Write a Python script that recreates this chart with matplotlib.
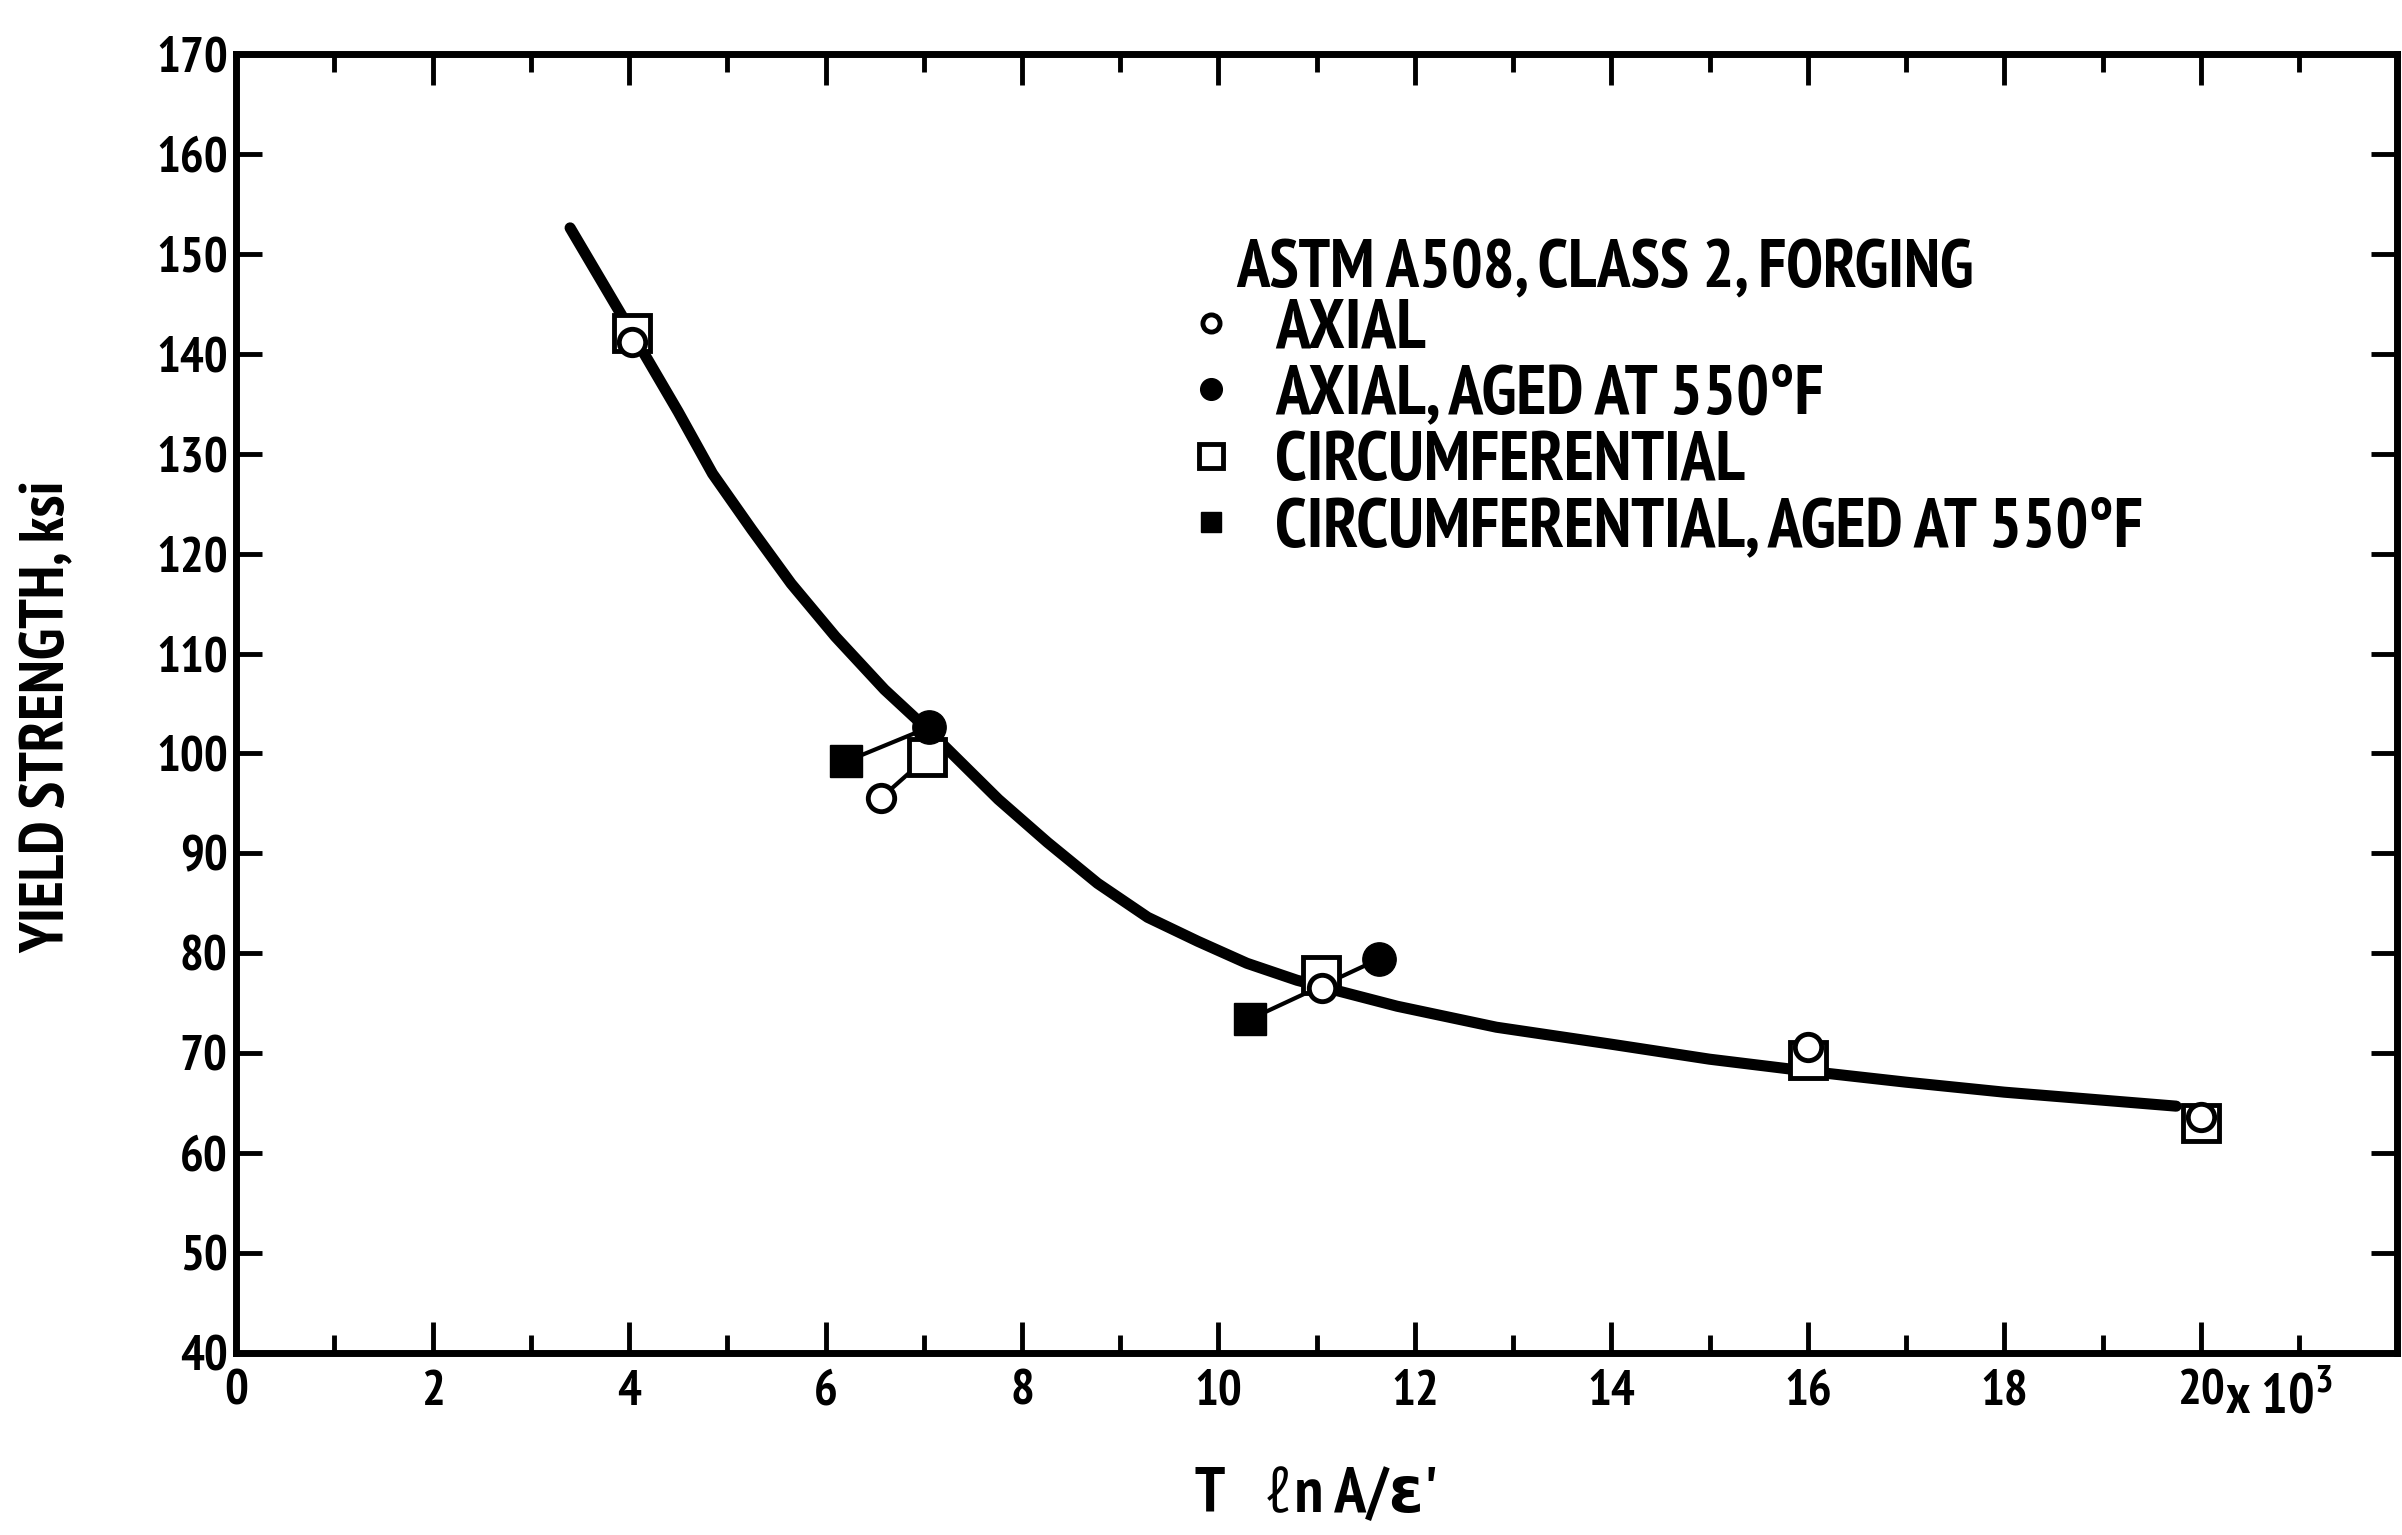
import numpy as np
import matplotlib.pyplot as plt
from matplotlib.ticker import MultipleLocator, FixedLocator, FixedFormatter

plt.rcParams['font.family'] = ['PT Sans Narrow', 'DejaVu Sans']
plt.rcParams['font.weight'] = 'bold'
plt.rcParams['mathtext.fontset'] = 'custom'
plt.rcParams['mathtext.rm'] = 'PT Sans Narrow:bold'

# data (x in units of 10^3)
axial_x = [4.03, 6.56, 11.05, 16.0, 20.0]
axial_y = [141.2, 95.5, 76.5, 70.6, 63.6]
axial_aged_x = [7.05, 11.63]
axial_aged_y = [102.6, 79.4]
circ_x = [4.03, 7.03, 11.04, 16.0, 20.0]
circ_y = [142.1, 99.6, 77.8, 69.3, 63.0]
circ_aged_x = [6.21, 10.32]
circ_aged_y = [99.2, 73.4]

# hand-drawn fit curve
curve_x = [3.4, 4.03, 4.5, 4.85, 5.25, 5.65, 6.1, 6.6, 7.05, 7.76, 8.26, 8.77,
           9.28, 9.79, 10.29, 10.8, 11.31, 11.82, 12.83, 14.0, 15.0, 16.0,
           17.0, 18.0, 19.0, 19.75]
curve_y = [152.6, 142.1, 134.2, 128.0, 122.4, 117.0, 111.7, 106.4, 102.3, 95.4,
           91.1, 87.0, 83.6, 81.2, 79.0, 77.3, 76.0, 74.7, 72.6, 70.9, 69.4,
           68.2, 67.1, 66.1, 65.3, 64.7]

xticks = [0, 2, 4, 6, 8, 10, 12, 14, 16, 18, 20]
xticklabels = ['0', '2', '4', '6', '8', '10', '12', '14', '16', '18', '20']
yticks = list(range(40, 171, 10))

fig = plt.figure(figsize=(24.02, 15.35), dpi=100)
ax = fig.add_axes([0.0983, 0.1186, 0.8997, 0.8462])

ax.plot(curve_x, curve_y, color='black', lw=8, solid_capstyle='round',
        solid_joinstyle='round', zorder=2)

# thin connectors between aged / unaged pairs
ax.plot([circ_aged_x[0], axial_aged_x[0]], [circ_aged_y[0], axial_aged_y[0]],
        color='black', lw=3, zorder=2)
ax.plot([axial_x[1], circ_x[1]], [axial_y[1], circ_y[1]],
        color='black', lw=3, zorder=2)
ax.plot([circ_aged_x[1], axial_aged_x[1]], [circ_aged_y[1], axial_aged_y[1]],
        color='black', lw=3, zorder=2)

ax.plot(circ_x, circ_y, 's', ms=26, mfc='white', mec='black', mew=3.5,
        ls='none', zorder=3, label='CIRCUMFERENTIAL')
ax.plot(axial_x, axial_y, 'o', ms=19, mfc='white', mec='black', mew=3.5,
        ls='none', zorder=4, label='AXIAL')
ax.plot(axial_aged_x, axial_aged_y, 'o', ms=24, color='black', ls='none',
        zorder=4, label='AXIAL, AGED AT 550°F')
ax.plot(circ_aged_x, circ_aged_y, 's', ms=23, color='black', ls='none',
        zorder=4, label='CIRCUMFERENTIAL, AGED AT 550°F')

ax.set_xlim(0, 22)
ax.set_ylim(40, 170)

ax.xaxis.set_major_locator(FixedLocator(xticks))
ax.xaxis.set_major_formatter(FixedFormatter(xticklabels))
ax.xaxis.set_minor_locator(MultipleLocator(1))
ax.yaxis.set_major_locator(FixedLocator(yticks))

ax.tick_params(axis='x', which='major', direction='in', length=22, width=3.5,
               top=True, labelsize=36, pad=12)
ax.tick_params(axis='x', which='minor', direction='in', length=13, width=3.5,
               top=True)
ax.tick_params(axis='y', which='major', direction='in', length=19, width=3.5,
               right=True, labelsize=36, pad=6)
for s in ax.spines.values():
    s.set_linewidth(5)

ax.text(20.25, -0.034, 'x 10$^3$', transform=ax.get_xaxis_transform(),
        ha='left', va='center', fontsize=40, fontweight='bold')

ax.set_ylabel('YIELD STRENGTH, ksi', fontsize=45, fontweight='bold')
ax.yaxis.set_label_coords(-0.074, 0.49)
ax.set_xlabel("T   ℓn A/ε'", fontsize=46, fontweight='bold')
ax.xaxis.set_label_coords(0.5, -0.088)

ax.text(0.463, 0.834, 'ASTM A508, CLASS 2, FORGING', transform=ax.transAxes,
        ha='left', va='center', fontsize=48, fontweight='bold')

handles, labels = ax.get_legend_handles_labels()
order = [1, 2, 0, 3]
leg = ax.legend([handles[i] for i in order], [labels[i] for i in order],
                loc='upper left', bbox_to_anchor=(0.439, 0.812), frameon=False,
                fontsize=50, markerscale=0.65, handlelength=0.75,
                handletextpad=0.55, labelspacing=0.05, borderpad=0,
                borderaxespad=0)

fig.savefig('out.png', dpi=100)
